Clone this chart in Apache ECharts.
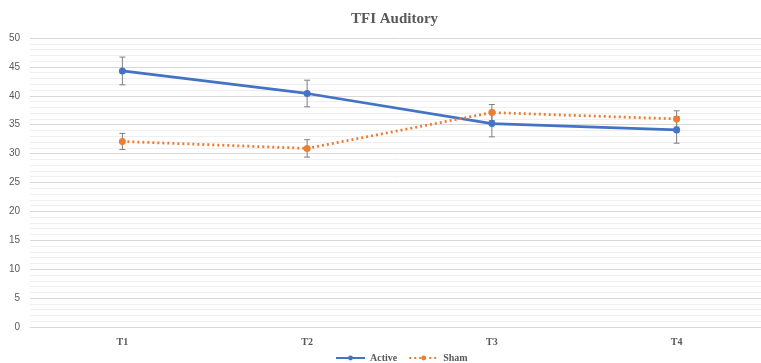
<!DOCTYPE html>
<html><head><meta charset="utf-8">
<script src="https://cdn.jsdelivr.net/npm/echarts@6/dist/echarts.min.js"></script>
<style>html,body{margin:0;padding:0;background:#fff;overflow:hidden;width:761px;height:363px}#c{width:769px;height:363px}</style>
</head><body><div id="c"></div>
<script>
const categories = ['T1', 'T2', 'T3', 'T4'];
const activeValues = [44.3, 40.4, 35.2, 34.1];
const activeErr = [2.4, 2.3, 2.3, 2.3];
const shamValues = [32.1, 30.9, 37.1, 36.0];
const shamErr = [1.4, 1.5, 1.4, 1.4];
const yTicks = [0, 5, 10, 15, 20, 25, 30, 35, 40, 45, 50];

function errData(vals, errs) {
  return vals.map((v, i) => [i, v - errs[i], v + errs[i]]);
}
function errSeries(vals, errs) {
  return {
    type: 'custom',
    silent: true,
    z: 1,
    data: errData(vals, errs),
    renderItem: function (params, api) {
      const x = api.value(0);
      const lo = api.coord([x, api.value(1)]);
      const hi = api.coord([x, api.value(2)]);
      const w = 3;
      const st = { stroke: '#7f7f7f', lineWidth: 1 };
      return {
        type: 'group',
        children: [
          { type: 'line', shape: { x1: hi[0], y1: hi[1], x2: lo[0], y2: lo[1] }, style: st },
          { type: 'line', shape: { x1: hi[0] - w, y1: hi[1], x2: hi[0] + w, y2: hi[1] }, style: st },
          { type: 'line', shape: { x1: lo[0] - w, y1: lo[1], x2: lo[0] + w, y2: lo[1] }, style: st }
        ]
      };
    }
  };
}

const chart = echarts.init(document.getElementById('c'));
chart.setOption({
  animation: false,
  title: {
    text: 'TFI Auditory', left: 346, top: 7,
    textStyle: { fontFamily: 'Liberation Serif', fontWeight: 'bold', fontSize: 15, color: '#595959' }
  },
  legend: {
    bottom: -5, left: 330, data: ['Active', 'Sham'],
    itemWidth: 29, itemHeight: 6, itemGap: 11,
    textStyle: { fontFamily: 'Liberation Serif', fontWeight: 'bold', fontSize: 10, color: '#595959' }
  },
  grid: { left: 30, width: 739, top: 38, bottom: 36 },
  xAxis: {
    type: 'category', data: categories,
    axisLine: { lineStyle: { color: '#d9d9d9' } },
    axisTick: { show: false },
    axisLabel: { fontFamily: 'Liberation Serif', fontWeight: 'bold', fontSize: 10, color: '#595959', margin: 10 }
  },
  yAxis: {
    type: 'value', min: 0, max: 50, interval: 5,
    axisLine: { show: false }, axisTick: { show: false },
    axisLabel: { fontFamily: 'Liberation Sans', fontSize: 10, color: '#595959', margin: 10,
      formatter: v => yTicks.includes(v) ? String(v) : '' },
    splitLine: { lineStyle: { color: '#d9d9d9', width: 1 } },
    minorTick: { show: false, splitNumber: 5 },
    minorSplitLine: { show: true, lineStyle: { color: '#efefef', width: 1 } }
  },
  series: [
    errSeries(activeValues, activeErr),
    errSeries(shamValues, shamErr),
    {
      name: 'Active', type: 'line', data: activeValues, z: 3,
      symbol: 'circle', symbolSize: 7,
      itemStyle: { color: '#4472C4' },
      lineStyle: { color: '#4472C4', width: 2.75 }
    },
    {
      name: 'Sham', type: 'line', data: shamValues, z: 3,
      symbol: 'circle', symbolSize: 7,
      itemStyle: { color: '#ED7D31' },
      lineStyle: { color: '#ED7D31', width: 2.75, type: [2, 3] }
    }
  ]
});
</script></body></html>
